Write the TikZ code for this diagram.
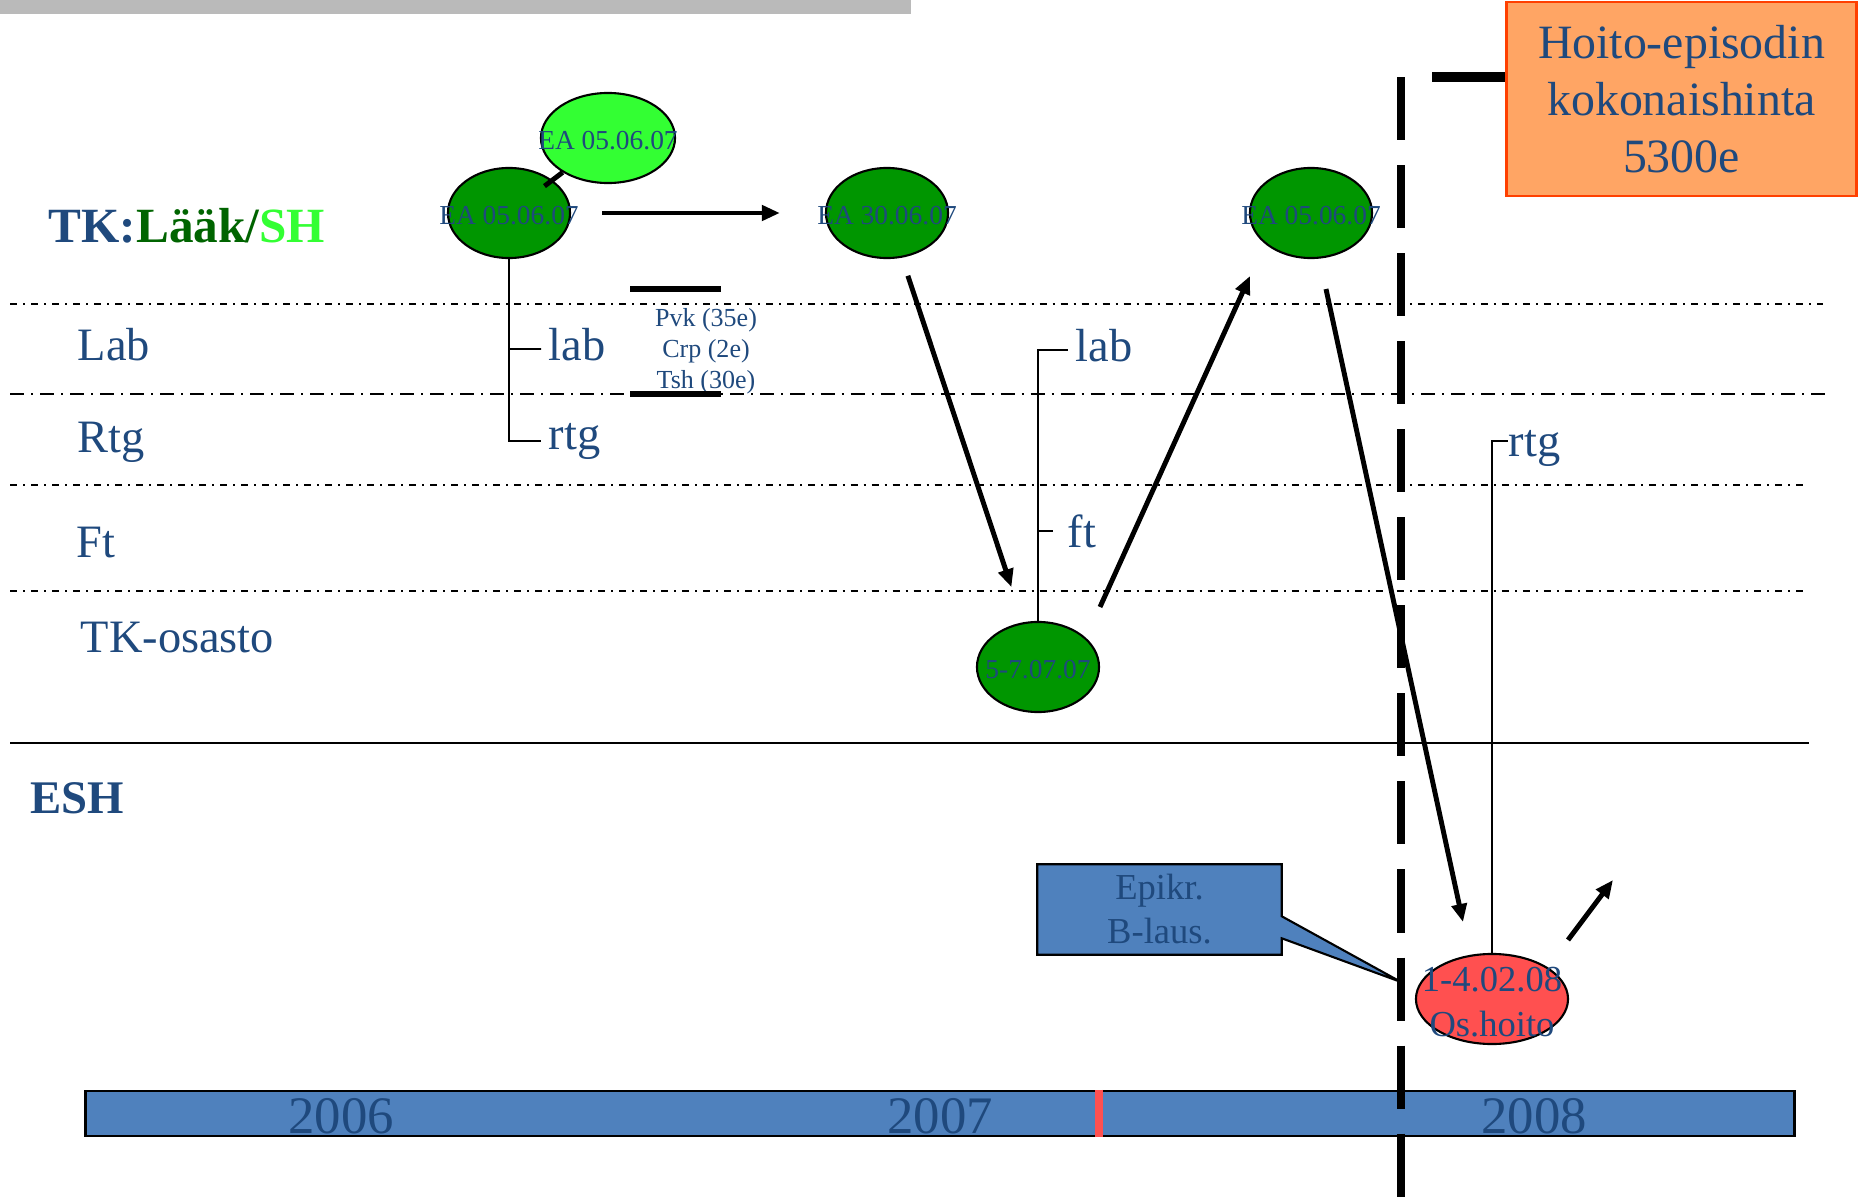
\documentclass[tikz,border=0pt]{standalone}
\usepackage{fontspec}
\setmainfont{Liberation Serif}
\usetikzlibrary{arrows.meta, calc, shapes.geometric, backgrounds}

\definecolor{txtblue}{RGB}{31,73,125}
\definecolor{visitgreen}{RGB}{0,150,0}
\definecolor{shgreen}{RGB}{51,255,51}
\definecolor{laakgreen}{RGB}{0,100,0}
\definecolor{barblue}{RGB}{79,129,189}
\definecolor{wardred}{RGB}{255,80,80}
\definecolor{sumorange}{RGB}{255,165,100}
\definecolor{sumedge}{RGB}{255,64,0}
\definecolor{topgray}{RGB}{186,186,186}

\begin{document}
\begin{tikzpicture}[x=0.01cm,y=-0.01cm,
  visit/.style={ellipse,draw,line width=0.6pt,fill=visitgreen,minimum width=1.22cm,minimum height=0.9cm,inner sep=0pt},
  visittxt/.style={inner sep=0pt,yshift=-0.03cm,align=center,text=txtblue,font=\fontsize{7.8}{9}\selectfont},
  lanetxt/.style={anchor=west,inner sep=0pt,text=txtblue,font=\fontsize{13.2}{16}\selectfont},
  tag/.style={anchor=west,inner ysep=0pt,inner xsep=2pt,text=txtblue,font=\fontsize{13.2}{16}\selectfont},
  flow/.style={-{Triangle[length=0.18cm,width=0.15cm]},line width=1.4pt},
  tree/.style={line width=0.5pt},
  lane/.style={line width=0.45pt,dash pattern=on 0.07cm off 0.06cm on 0.02cm off 0.06cm},
  lanebold/.style={line width=0.8pt,dash pattern=on 0.14cm off 0.07cm on 0.02cm off 0.07cm},
  yeartxt/.style={text=txtblue,font=\fontsize{15}{18}\selectfont}]
\useasboundingbox (0,0) rectangle (1865,1200);

% grey strip at the top
\fill[topgray] (0,0) rectangle (911,14);

% lanes
\draw[lane] (10,304) -- (1823,304);
\draw[lanebold] (10,394) -- (1826,394);
\draw[lane] (10,485) -- (1808,485);
\draw[lane] (10,591) -- (1808,591);
\draw[line width=0.7pt] (10,743) -- (1809,743);

\node[lanetxt,font=\bfseries\fontsize{14}{16}\selectfont] (tk) at (48,226) {TK:\textcolor{laakgreen}{Lääk/}\textcolor{shgreen}{SH}};
\node[lanetxt] (lab) at (77,345) {Lab};
\node[lanetxt] (rtg) at (77,442) {Rtg};
\node[lanetxt] (ft) at (76,543) {Ft};
\node[lanetxt] (osastotxt) at (80,638) {TK-osasto};
\node[lanetxt,font=\bfseries\fontsize{13.3}{16}\selectfont] (esh) at (30,798) {ESH};

% visits
\node[visit,label={[visittxt]center:EA 05.06.07}] (ea1) at (509,213) {};
\node[visit,fill=shgreen,minimum width=1.34cm,label={[visittxt]center:EA 05.06.07}] (sh) at (608,138) {};
\node[visit,label={[visittxt]center:EA 30.06.07}] (ea2) at (887,213) {};
\node[visit,label={[visittxt]center:EA 05.06.07}] (ea3) at (1311,213) {};
\node[visit,label={[visittxt]center:5-7.07.07}] (osasto) at (1038,667) {};
\node[visit,fill=wardred,minimum width=1.52cm,label={[visittxt,font=\fontsize{10.4}{12.8}\selectfont]center:1-4.02.08\\Os.hoito}] (osh) at (1492,999) {};

% tests
\node[tag] (lab1) at (541,345) {lab};
\node[tag] (rtg1) at (541,441) {rtg};
\node[tag] (lab2) at (1068,346) {lab};
\node[tag,inner xsep=0.14cm] (ft1) at (1053,531) {ft};
\node[tag,inner xsep=0pt] (rtg2) at (1508,448) {rtg};

\draw[tree] (ea1.south) |- (rtg1.west);
\draw[tree] (ea1.south |- lab1.west) ++(0,4) -- ([yshift=-0.04cm]lab1.west);
\draw[tree] (osasto.north) |- ([yshift=-0.04cm]lab2.west);
\draw[tree] (osasto.north |- ft1.west) -- (ft1.west);
\draw[tree] (osh.north) |- ([yshift=0.07cm]rtg2.west);

% lab prices
\node[text=txtblue,align=center,font=\fontsize{7.4}{8.8}\selectfont] (prices) at (706,351) {Pvk (35e)\\Crp (2e)\\Tsh (30e)};
\draw[line width=1.7pt] (630,289) -- (721,289);
\draw[line width=1.7pt] (630,394) -- (721,394);

% flows
\draw[line width=1.4pt,shorten <=0.445cm] (ea1.center) -- (sh);
\draw[flow,shorten <=0.31cm,shorten >=0.45cm] (ea1) -- (ea2);
\draw[flow,shorten <=0.19cm,shorten >=0.37cm] (ea2) -- (osasto);
\draw[flow] ($(osasto)+(62,-60)$) -- ($(ea3)+(-61,63)$);
\draw[flow] ($(ea3)+(15,76)$) -- ($(osh)+(-29,-77)$);
\draw[flow] ($(osh)+(76,-59)$) -- ($(osh)+(121,-119)$);

% epikriisi callout
\coordinate (epitip) at ($(osh)+(-91,-17)$);
\node[align=center,inner sep=0pt,text=txtblue,font=\fontsize{10.4}{12.5}\selectfont,minimum width=2.43cm,minimum height=0.89cm] (epikr) at (1159.5,909.5) {Epikr.\\B-laus.};
\begin{scope}[on background layer]
\filldraw[fill=barblue,line width=0.6pt] (epikr.north west) -- (epikr.north east) -- ([yshift=-0.52cm]epikr.north east) -- (epitip) -- ([yshift=-0.74cm]epikr.north east) -- (epikr.south east) -- (epikr.south west) -- cycle;
\end{scope}

% time line
\node[draw,fill=barblue,line width=0.7pt,minimum width=17.08cm,minimum height=0.45cm,inner sep=0pt] (years) at (940,1113.5) {};
\draw[wardred,line width=2.2pt] ([xshift=1.59cm]years.north) -- ([xshift=1.59cm]years.south);
\node[yeartxt] (y2006) at (341,1116) {2006};
\node[yeartxt] (y2007) at (940,1116) {2007};
\node[yeartxt] (y2008) at (1534,1116) {2008};

% total price
\coordinate (cuttop) at (1401,77);
\coordinate (cutbot) at (1401,1197);
\draw[line width=2.3pt,dash pattern=on 0.63cm off 0.25cm] (cuttop) -- (cutbot);
\node[draw=sumedge,fill=sumorange,line width=0.8pt,minimum width=3.49cm,minimum height=1.94cm,inner sep=0pt,align=center,text=txtblue,font=\fontsize{13.6}{16.2}\selectfont] (total) at (1681.5,99) {Hoito-episodin\\kokonaishinta\\5300e};
\draw[line width=2.6pt] ($(cuttop)+(31,0)$) -- (total.west |- cuttop);
\end{tikzpicture}
\end{document}
